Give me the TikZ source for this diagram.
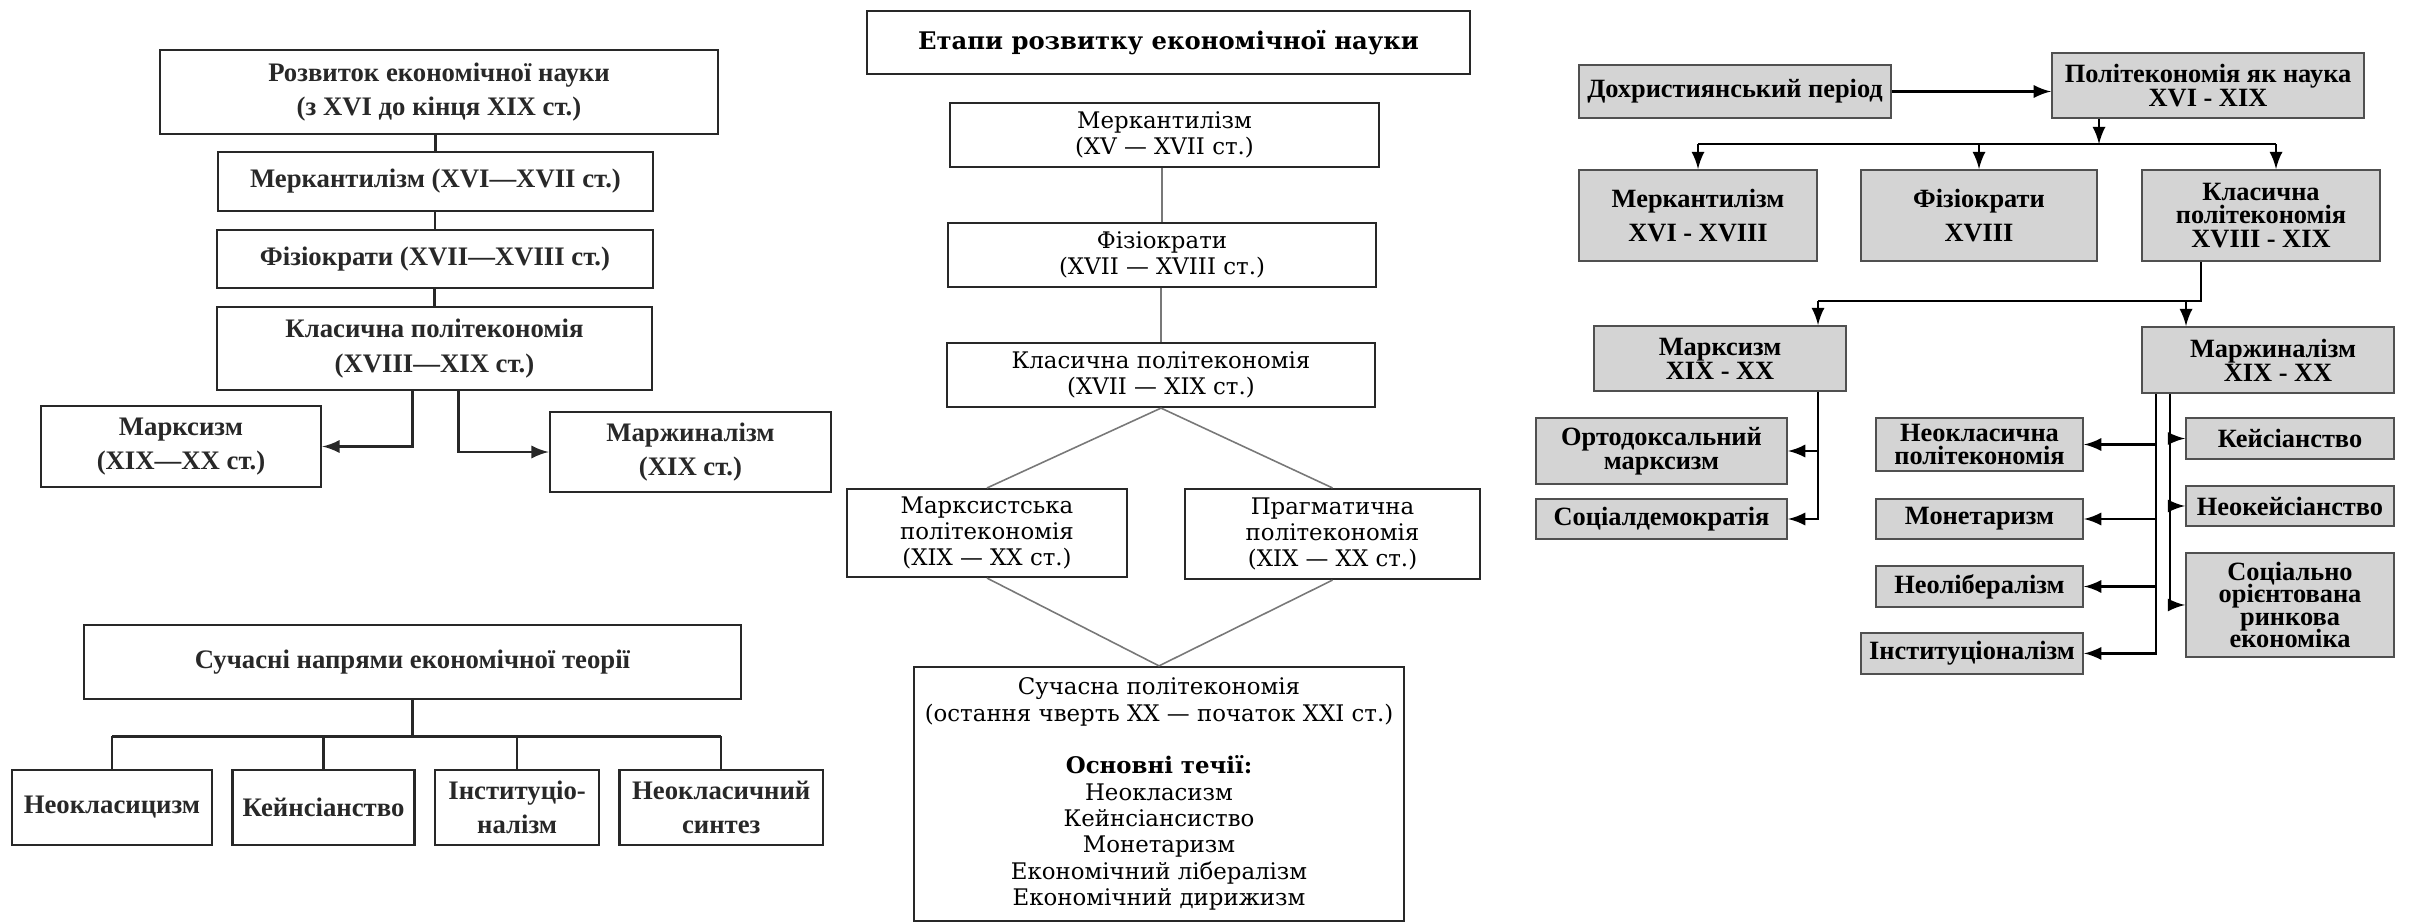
\documentclass[tikz,border=0pt]{standalone}
\usepackage{fontspec}
\setmainfont{Liberation Serif}
\newfontfamily\dvserif{DejaVu Serif}
\usetikzlibrary{calc,positioning}
\definecolor{myblack}{RGB}{40,40,40}
\definecolor{mygray}{RGB}{120,120,120}
\definecolor{boxgray}{RGB}{212,212,212}
\definecolor{rimgray}{RGB}{80,80,80}
\newcommand\lfont{\bfseries\fontsize{7.6}{9.7}\selectfont}
\newcommand\mfont{\dvserif\fontsize{6.5}{7.5}\selectfont}
\newcommand\mtitlefont{\dvserif\bfseries\fontsize{6.9}{8}\selectfont}
\newcommand\rfont{\bfseries\fontsize{7.5}{6.8}\selectfont\lineskiplimit=-10pt}

\begin{document}
\begin{tikzpicture}[x=0.01cm,y=-0.01cm,>=latex,
  lbox/.style={draw=myblack,line width=0.7pt,align=center,inner sep=0pt,text=myblack,font=\lfont},
  mbox/.style={draw=myblack,line width=0.6pt,align=center,inner sep=0pt,text=black,font=\mfont},
  rbox/.style={draw=rimgray,fill=boxgray,line width=0.55pt,align=center,inner sep=0pt,font=\rfont},
  lline/.style={draw=myblack,line width=0.7pt},
  mline/.style={draw=mygray,line width=0.45pt},
  rline/.style={draw=black,line width=0.7pt}]

  \useasboundingbox (0,0) rectangle (2410,923);

  % left side: development of economics
  \node[lbox,minimum width=5.58cm,minimum height=0.84cm] (ltop) at (439,92) {Розвиток економічної науки\\(з XVI до кінця XIX ст.)};
  \node[lbox,minimum width=4.35cm,minimum height=0.59cm] (lmerk) at (435.5,181.5) {Меркантилізм (XVI—XVII ст.)};
  \node[lbox,minimum width=4.36cm,minimum height=0.58cm] (lfiz) at (435,259) {Фізіократи (XVII—XVIII ст.)};
  \node[lbox,minimum width=4.35cm,minimum height=0.83cm] (lclas) at (434.5,348.5) {Класична політекономія\\(XVIII—XIX ст.)};
  \node[lbox,minimum width=2.8cm,minimum height=0.81cm] (lmarx) at (181,446.5) {Марксизм\\(XIX—XX ст.)};
  \node[lbox,minimum width=2.81cm,minimum height=0.8cm] (lmarg) at (690.5,452) {Маржиналізм\\(XIX ст.)};

  \draw[lline] (ltop.south -| lmerk.north) -- (lmerk.north);
  \draw[lline] (lmerk.south -| lfiz.north) -- (lfiz.north);
  \draw[lline] (lfiz.south -| lclas.north) -- (lclas.north);
  \draw[lline,->] ($(lclas.south)+(-22,0)$) |- (lmarx.east);
  \draw[lline,->] ($(lclas.south)+(24,0)$) |- (lmarg.west);

  % left side: modern schools
  \node[lbox,minimum width=6.57cm,minimum height=0.74cm] (lsuch) at (412.5,662) {Сучасні напрями економічної теорії};
  \node[lbox,minimum width=2cm,minimum height=0.75cm] (lneo) at (112,807.5) {Неокласицизм};
  \node[lbox,minimum width=1.82cm,minimum height=0.75cm,right=0.18cm of lneo] (lkeyn) {Кейнсіанство};
  \node[lbox,minimum width=1.64cm,minimum height=0.75cm,right=0.18cm of lkeyn] (linst) {Інституціо-\\налізм};
  \node[lbox,minimum width=2.03cm,minimum height=0.75cm,right=0.18cm of linst] (lsynt) {Неокласичний\\синтез};

  \coordinate (lbus) at ($(lsuch.south)+(0,36)$);
  \draw[lline] (lsuch.south) -- (lbus);
  \draw[lline] (lbus -| lneo.north) -- (lbus -| lsynt.north);
  \foreach \n in {lneo,lkeyn,linst,lsynt}
    \draw[lline] (lbus -| \n.north) -- (\n.north);

  % middle: stages
  \node[mbox,font=\mtitlefont,minimum width=6.03cm,minimum height=0.63cm] (mtitle) at (1168.5,42.5) {Етапи розвитку економічної науки};
  \node[mbox,minimum width=4.29cm,minimum height=0.64cm] (mmerk) at (1164.5,135) {Меркантилізм\\(XV — XVII ст.)};
  \node[mbox,minimum width=4.28cm,minimum height=0.64cm] (mfiz) at (1162,255) {Фізіократи\\(XVII — XVIII ст.)};
  \node[mbox,minimum width=4.28cm,minimum height=0.64cm] (mclas) at (1161,375) {Класична політекономія\\(XVII — XIX ст.)};
  \node[mbox,minimum width=2.8cm,minimum height=0.88cm] (mmarx) at (987,533) {Марксистська\\політекономія\\(XIX — XX ст.)};
  \node[mbox,minimum width=2.95cm,minimum height=0.9cm] (mprag) at (1332.5,534) {Прагматична\\політекономія\\(XIX — XX ст.)};
  \node[mbox,minimum width=4.9cm,minimum height=2.54cm] (msuch) at (1159,794) {Сучасна політекономія\\(остання чверть XX — початок XXI ст.)\\[7.5pt]\textbf{Основні течії:}\\Неокласизм\\Кейнсіансиство\\Монетаризм\\Економічний лібералізм\\Економічний дирижизм};

  \draw[mline] (mmerk.south -| mfiz.north) -- (mfiz.north);
  \draw[mline] (mfiz.south -| mclas.north) -- (mclas.north);
  \draw[mline] (mclas.south) -- (mmarx.north)
               (mclas.south) -- (mprag.north);
  \draw[mline] (mmarx.south) -- (msuch.north)
               (mprag.south) -- (msuch.north);

  % right side: political economy
  \node[rbox,minimum width=3.12cm,minimum height=0.53cm] (rdoh) at (1735,91.5) {Дохристиянський період};
  \node[rbox,minimum width=3.12cm,minimum height=0.65cm] (rpol) at (2208,85.5) {Політекономія як наука\\XVI - XIX};
  \node[rbox,minimum width=2.38cm,minimum height=0.91cm] (rmerk) at (1698,215.5) {Меркантилізм\\[3pt]XVI - XVIII};
  \node[rbox,minimum width=2.36cm,minimum height=0.91cm] (rfiz) at (1979,215.5) {Фізіократи\\[3pt]XVIII};
  \node[rbox,minimum width=2.38cm,minimum height=0.91cm] (rclas) at (2261,215.5) {Класична\\політекономія\\XVIII - XIX};
  \node[rbox,minimum width=2.52cm,minimum height=0.65cm] (rmarx) at (1720,358.5) {Марксизм\\XIX - XX};
  \node[rbox,minimum width=2.52cm,minimum height=0.66cm] (rmarg) at (2268,360) {\hspace*{0.1cm}Маржиналізм\\\hspace*{0.2cm}XIX - XX};

  \node[rbox,minimum width=2.51cm,minimum height=0.66cm] (rorto) at (1661.5,451) {Ортодоксальний\\марксизм};
  \node[rbox,minimum width=2.51cm,minimum height=0.4cm,below=0.13cm of rorto] (rsoc) {Соціалдемократія};

  \node[rbox,minimum width=2.07cm,minimum height=0.53cm] (rneok) at (1979.5,444.5) {Неокласична\\[-0.5pt]політекономія};
  \node[rbox,minimum width=2.07cm,minimum height=0.4cm,below=0.26cm of rneok] (rmon) {Монетаризм};
  \node[rbox,minimum width=2.07cm,minimum height=0.41cm,below=0.25cm of rmon] (rneol) {Неолібералізм};
  \node[rbox,minimum width=2.22cm,minimum height=0.41cm,below=0.24cm of rneol.south east,anchor=north east] (rinst) {Інституціоналізм};

  \node[rbox,minimum width=2.08cm,minimum height=0.41cm] (rkeys) at (2290,438.5) {Кейсіанство};
  \node[rbox,minimum width=2.08cm,minimum height=0.4cm,below=0.25cm of rkeys] (rneoke) {Неокейсіанство};
  \node[rbox,minimum width=2.08cm,minimum height=1.04cm,below=0.25cm of rneoke] (rsoco) {Соціально\\[-0.5pt]орієнтована\\[-0.5pt]ринкова\\[-0.5pt]економіка};

  % arrows of right side
  \draw[rline,->] (rdoh.east) -- (rdoh.east -| rpol.west);
  \draw[rline,->] ($(rpol.south)+(-109,0)$) -- ++(0,25) coordinate (rbus);
  \coordinate (rclasin) at ($(rclas.north)+(15,0)$);
  \draw[rline] (rbus -| rmerk.north) -- (rbus -| rclasin);
  \draw[rline,->] (rbus -| rmerk.north) -- (rmerk.north);
  \draw[rline,->] (rbus -| rfiz.north) -- (rfiz.north);
  \draw[rline,->] (rbus -| rclasin) -- (rclasin);

  \coordinate (rmarxin) at ($(rmarx.north)+(98,0)$);
  \coordinate (rmargin) at ($(rmarg.north)+(-82,0)$);
  \draw[rline] ($(rclas.south)+(-60,0)$) -- ++(0,39) coordinate (rbus2) -- (rbus2 -| rmarxin);
  \draw[rline,->] (rbus2 -| rmarxin) -- (rmarxin);
  \draw[rline,->] (rbus2 -| rmargin) -- (rmargin);

  % legs below marxism and marginalism
  \coordinate (rmx) at ($(rmarx.south)+(98,0)$);
  \draw[rline,->] (rmx) |- (rorto.east);
  \draw[rline,->] (rmx) |- (rsoc.east);

  \coordinate (rmgl) at ($(rmarg.south west)+(15,0)$);
  \coordinate (rmgr) at ($(rmarg.south west)+(29,0)$);
  \foreach \n in {rneok,rmon,rneol,rinst}
    \draw[rline,->] (rmgl) |- (\n.east);
  \foreach \n in {rkeys,rneoke,rsoco}
    \draw[rline,->] (rmgr) |- (\n.west);

\end{tikzpicture}
\end{document}
